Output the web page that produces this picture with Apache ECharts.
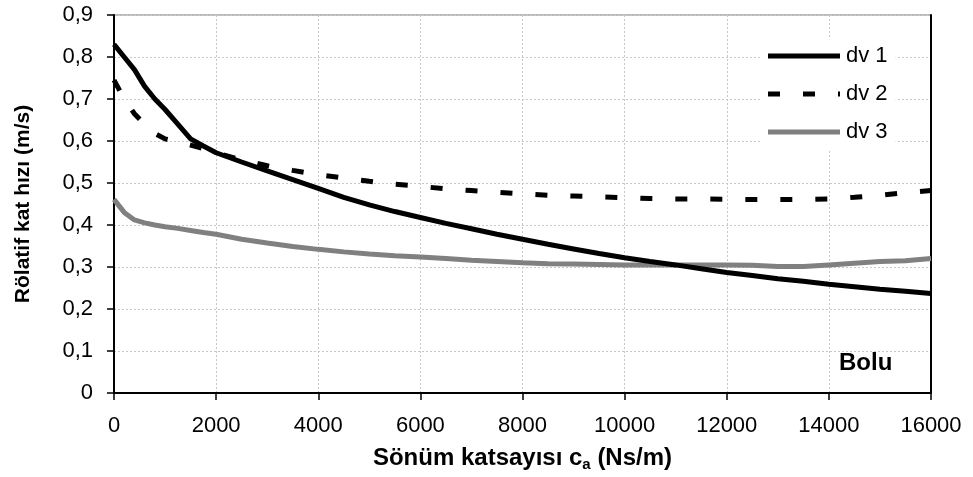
<!DOCTYPE html>
<html>
<head>
<meta charset="utf-8">
<script src="https://cdn.jsdelivr.net/npm/echarts@6/dist/echarts.min.js"></script>
<style>html,body{margin:0;padding:0;background:#fff;}#c{width:973px;height:477px;}</style>
</head>
<body>
<div id="c"></div>
<script>
const xs = [0, 200, 400, 600, 800, 1000, 1250, 1500, 1750, 2000, 2500, 3000, 3500, 4000, 4500, 5000, 5500, 6000, 6500, 7000, 7500, 8000, 8500, 9000, 9500, 10000, 10500, 11000, 11500, 12000, 12500, 13000, 13500, 14000, 14500, 15000, 15500, 16000];
const dv1 = [0.830, 0.800, 0.770, 0.730, 0.700, 0.675, 0.640, 0.605, 0.588, 0.572, 0.550, 0.529, 0.508, 0.487, 0.466, 0.448, 0.432, 0.418, 0.404, 0.391, 0.378, 0.366, 0.354, 0.343, 0.332, 0.322, 0.313, 0.305, 0.296, 0.287, 0.280, 0.272, 0.266, 0.259, 0.253, 0.247, 0.242, 0.237];
const dv2 = [0.745, 0.700, 0.665, 0.640, 0.618, 0.605, 0.598, 0.590, 0.582, 0.572, 0.555, 0.541, 0.530, 0.520, 0.512, 0.504, 0.497, 0.492, 0.486, 0.482, 0.478, 0.474, 0.471, 0.469, 0.467, 0.465, 0.463, 0.462, 0.462, 0.461, 0.461, 0.461, 0.461, 0.462, 0.466, 0.471, 0.477, 0.482];
const dv3 = [0.461, 0.430, 0.412, 0.405, 0.400, 0.396, 0.392, 0.387, 0.382, 0.378, 0.366, 0.357, 0.349, 0.342, 0.336, 0.331, 0.327, 0.324, 0.320, 0.316, 0.313, 0.310, 0.308, 0.307, 0.306, 0.305, 0.305, 0.305, 0.305, 0.305, 0.304, 0.301, 0.301, 0.305, 0.309, 0.313, 0.315, 0.320];
const seriesNames = ['dv 1', 'dv 2', 'dv 3'];
const xTitle = 'Sönüm katsayısı c{sub|a} (Ns/m)';
const yTitle = 'Rölatif kat hızı (m/s)';
const placeLabel = 'Bolu';

const pair = (ys) => xs.map((x, i) => [x, ys[i]]);
const FONT = "'Liberation Sans', Arial, sans-serif";
const ICON_SOLID = 'path://M0,0H72V5H0Z';
const ICON_DASH = 'path://M0,0H12V5H0Z M35,0H47V5H35Z M70,0H72V5H70Z';

const chart = echarts.init(document.getElementById('c'), null, {renderer: 'canvas'});
chart.setOption({
  animation: false,
  backgroundColor: '#fff',
  grid: {left: 114, right: 42, top: 15, bottom: 84, show: true, borderColor: '#777', borderWidth: 1, backgroundColor: 'transparent'},
  legend: {
    orient: 'vertical', left: 762, top: 37, itemWidth: 72, itemHeight: 5, itemGap: 16,
    backgroundColor: '#fff', padding: [8, 8, 8, 6],
    textStyle: {fontFamily: FONT, fontSize: 22, color: '#000', padding: [0, 0, 0, 1]},
    data: [
      {name: seriesNames[0], icon: ICON_SOLID, itemStyle: {color: '#000'}},
      {name: seriesNames[1], icon: ICON_DASH, itemStyle: {color: '#000'}},
      {name: seriesNames[2], icon: ICON_SOLID, itemStyle: {color: '#808080'}}
    ]
  },
  xAxis: [{
    type: 'value', min: 0, max: 16000, interval: 2000,
    name: xTitle, nameLocation: 'middle', nameGap: 52,
    nameTextStyle: {fontFamily: FONT, fontSize: 24, fontWeight: 'bold', color: '#000',
      rich: {sub: {fontFamily: FONT, fontSize: 15, fontWeight: 'bold', color: '#000', verticalAlign: 'bottom', padding: [12, 0, 0, 0]}}},
    axisLine: {show: true, onZero: false, lineStyle: {color: '#000', width: 2}},
    axisTick: {show: true, length: 7, lineStyle: {color: '#000', width: 1.5}},
    axisLabel: {fontFamily: FONT, fontSize: 22, color: '#000', margin: 22, formatter: (v) => String(v)},
    splitLine: {show: true, lineStyle: {color: '#c8c8c8', width: 1, type: [2, 2]}}
  }],
  yAxis: [{
    type: 'value', min: 0, max: 0.9, interval: 0.1,
    name: yTitle, nameLocation: 'middle', nameGap: 80, nameRotate: 90,
    nameTextStyle: {fontFamily: FONT, fontSize: 21, fontWeight: 'bold', color: '#000'},
    axisLine: {show: true, onZero: false, lineStyle: {color: '#000', width: 2}},
    axisTick: {show: true, length: 7, lineStyle: {color: '#000', width: 1.5}},
    axisLabel: {fontFamily: FONT, fontSize: 22, color: '#000', margin: 21,
      formatter: (v) => (Math.round(v * 10) / 10).toString().replace('.', ',')},
    splitLine: {show: true, lineStyle: {color: '#c8c8c8', width: 1, type: [2, 2]}}
  }, {
    type: 'value', min: 0, max: 0.9, interval: 0.1, position: 'right',
    axisLine: {show: true, onZero: false, lineStyle: {color: '#000', width: 2}},
    axisTick: {show: false}, axisLabel: {show: false}, splitLine: {show: false}
  }],
  graphic: [{
    type: 'text', left: 839, top: 351,
    style: {text: placeLabel, fontFamily: FONT, fontSize: 24, fontWeight: 'bold', fill: '#000'}
  }],
  series: [
    {name: seriesNames[0], type: 'line', data: pair(dv1), symbol: 'none', z: 3,
      lineStyle: {color: '#000', width: 5, type: 'solid'}, itemStyle: {color: '#000'}},
    {name: seriesNames[1], type: 'line', data: pair(dv2), symbol: 'none', z: 4,
      lineStyle: {color: '#000', width: 5, type: [12, 23]}, itemStyle: {color: '#000'}},
    {name: seriesNames[2], type: 'line', data: pair(dv3), symbol: 'none', z: 2,
      lineStyle: {color: '#808080', width: 5, type: 'solid'}, itemStyle: {color: '#808080'}}
  ]
});
</script>
</body>
</html>
